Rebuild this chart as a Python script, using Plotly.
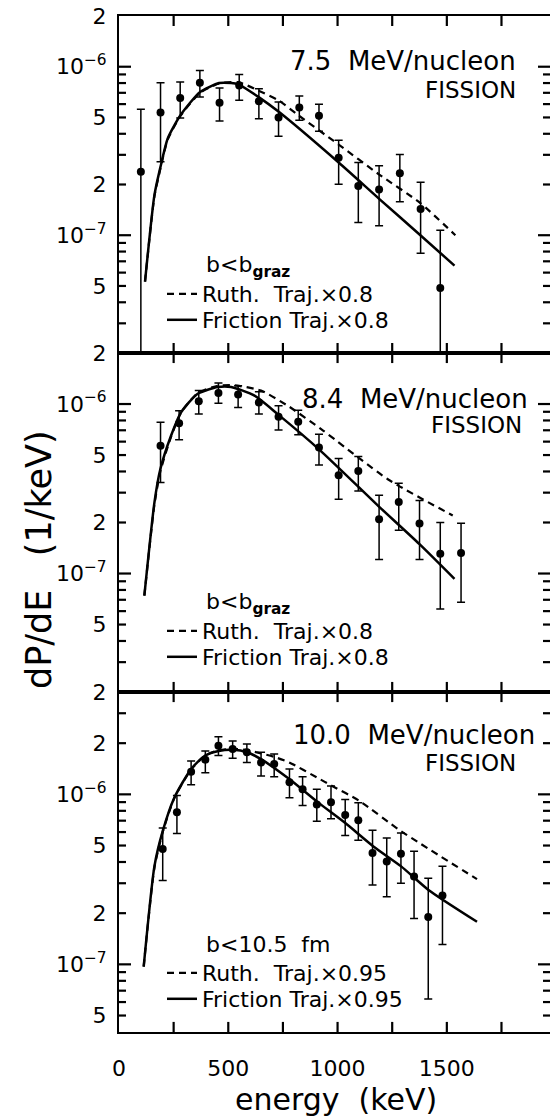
import math
import plotly.graph_objects as go

FONT = "DejaVu Sans"

# ---------------- data ----------------
# Panel 1: 7.5 MeV/nucleon
E1 = [100, 190, 280, 370, 460, 550, 640, 730, 825, 915, 1005, 1095, 1190, 1285, 1380, 1470]
P1 = [2.38e-7, 5.35e-7, 6.53e-7, 8.04e-7, 6.12e-7, 7.75e-7, 6.24e-7, 4.99e-7,
      5.72e-7, 5.11e-7, 2.88e-7, 1.96e-7, 1.87e-7, 2.33e-7, 1.43e-7, 4.86e-8]
HI1 = [5.59e-7, 8.04e-7, 8.12e-7, 9.5e-7, 7.48e-7, 9.0e-7, 7.41e-7, 6.18e-7,
       6.71e-7, 5.98e-7, 3.66e-7, 2.7e-7, 2.58e-7, 3.01e-7, 2.06e-7, 1.07e-7]
LO1 = [1e-9, 2.73e-7, 4.97e-7, 6.61e-7, 4.77e-7, 6.32e-7, 4.92e-7, 3.87e-7,
       4.81e-7, 4.14e-7, 2.01e-7, 1.19e-7, 1.14e-7, 1.58e-7, 7.82e-8, 1e-9]
FRIC1_E = [119, 162, 189, 223, 281, 371, 458, 513, 546, 639, 731, 1005, 1189, 1379, 1535]
FRIC1 = [5.3e-8, 1.73e-7, 2.52e-7, 3.75e-7, 5.15e-7, 7.08e-7, 8.0e-7, 8.0e-7, 7.85e-7,
         6.6e-7, 5.4e-7, 2.7e-7, 1.65e-7, 1.0e-7, 6.6e-8]
RUTH1_E = [119, 162, 189, 223, 281, 371, 458, 546, 639, 731, 825, 1005, 1189, 1379, 1539]
RUTH1 = [5.3e-8, 1.7e-7, 2.47e-7, 3.7e-7, 5.1e-7, 7.0e-7, 7.95e-7, 8.1e-7, 7.2e-7,
         6.3e-7, 5.1e-7, 3.45e-7, 2.3e-7, 1.55e-7, 1.0e-7]

# Panel 2: 8.4 MeV/nucleon
E2 = [190, 275, 365, 455, 545, 640, 730, 820, 915, 1005, 1095, 1190, 1280, 1375, 1470, 1565]
P2 = [5.67e-7, 7.69e-7, 1.04e-6, 1.16e-6, 1.14e-6, 1.02e-6, 8.41e-7, 7.86e-7,
      5.54e-7, 3.8e-7, 4.03e-7, 2.09e-7, 2.64e-7, 1.97e-7, 1.31e-7, 1.32e-7]
HI2 = [7.8e-7, 9.13e-7, 1.2e-6, 1.33e-6, 1.28e-6, 1.18e-6, 9.77e-7, 9.2e-7,
       6.64e-7, 4.77e-7, 4.9e-7, 2.9e-7, 3.41e-7, 2.7e-7, 2.0e-7, 1.98e-7]
LO2 = [3.44e-7, 6.15e-7, 8.72e-7, 1.01e-6, 9.55e-7, 8.72e-7, 7.02e-7, 6.58e-7,
       4.37e-7, 2.74e-7, 3.07e-7, 1.21e-7, 1.8e-7, 1.21e-7, 6.18e-8, 6.76e-8]
FRIC2_E = [116, 162, 189, 238, 284, 360, 452, 513, 620, 726, 914, 1187, 1375, 1535]
FRIC2 = [7.4e-8, 2.62e-7, 4.12e-7, 6.5e-7, 8.93e-7, 1.15e-6, 1.26e-6, 1.26e-6, 1.12e-6,
         8.72e-7, 5.42e-7, 2.5e-7, 1.49e-7, 9.3e-8]
RUTH2_E = [116, 162, 189, 238, 284, 360, 452, 528, 650, 772, 925, 1230, 1527]
RUTH2 = [7.4e-8, 2.55e-7, 4.0e-7, 6.4e-7, 8.9e-7, 1.16e-6, 1.28e-6, 1.29e-6, 1.2e-6,
         9.77e-7, 7.11e-7, 3.6e-7, 2.2e-7]

# Panel 3: 10.0 MeV/nucleon
E3 = [200, 265, 330, 395, 455, 520, 585, 650, 710, 780, 840, 905, 970, 1035, 1095,
      1160, 1225, 1290, 1350, 1415, 1480]
P3 = [4.77e-7, 7.86e-7, 1.36e-6, 1.6e-6, 1.93e-6, 1.85e-6, 1.77e-6, 1.54e-6, 1.51e-6,
      1.18e-6, 1.07e-6, 8.73e-7, 9.0e-7, 7.55e-7, 7.05e-7, 4.52e-7, 4.03e-7, 4.48e-7,
      3.29e-7, 1.9e-7, 2.54e-7]
HI3 = [6.35e-7, 9.86e-7, 1.57e-6, 1.8e-6, 2.18e-6, 2.06e-6, 1.98e-6, 1.77e-6, 1.73e-6,
       1.41e-6, 1.27e-6, 1.07e-6, 1.12e-6, 9.34e-7, 8.93e-7, 6.15e-7, 5.54e-7, 5.93e-7,
       4.62e-7, 3.21e-7, 3.77e-7]
LO3 = [3.11e-7, 5.88e-7, 1.14e-6, 1.34e-6, 1.69e-6, 1.63e-6, 1.54e-6, 1.28e-6, 1.27e-6,
       9.55e-7, 8.61e-7, 6.95e-7, 7.18e-7, 5.72e-7, 5.37e-7, 2.93e-7, 2.5e-7, 3.0e-7,
       1.86e-7, 6.26e-8, 1.31e-7]
FRIC3_E = [113, 162, 200, 253, 330, 394, 456, 523, 586, 650, 779, 909, 1034, 1164, 1291, 1416, 1638]
FRIC3 = [9.7e-8, 3.77e-7, 6.07e-7, 9.55e-7, 1.41e-6, 1.69e-6, 1.8e-6, 1.83e-6, 1.77e-6,
         1.61e-6, 1.23e-6, 9.0e-7, 6.8e-7, 4.94e-7, 3.77e-7, 2.74e-7, 1.78e-7]
RUTH3_E = [113, 162, 200, 253, 330, 394, 456, 523, 586, 650, 711, 779, 909, 970, 1097, 1291, 1638]
RUTH3 = [9.7e-8, 3.7e-7, 6.0e-7, 9.5e-7, 1.4e-6, 1.69e-6, 1.82e-6, 1.85e-6, 1.82e-6,
         1.74e-6, 1.66e-6, 1.54e-6, 1.25e-6, 1.13e-6, 9.2e-7, 6.07e-7, 3.17e-7]

ENERGY_LABELS = ["7.5  MeV/nucleon", "8.4  MeV/nucleon", "10.0  MeV/nucleon"]
CUT_LABELS = ["b&lt;b<sub><b>graz</b></sub>", "b&lt;b<sub><b>graz</b></sub>", "b&lt;10.5  fm"]
RUTH_LABELS = ["Ruth.  Traj.×0.8", "Ruth.  Traj.×0.8", "Ruth.  Traj.×0.95"]
FRIC_LABELS = ["Friction Traj.×0.8", "Friction Traj.×0.8", "Friction Traj.×0.95"]

X_TICKS = [0, 500, 1000, 1500]
X_TICKTEXT = ["0", "500", "1000", "1500"]
X_TICKMARKS = [250, 500, 750, 1000, 1250, 1500, 1750]
X_MAX = 1972

Y_TICKS = [
    [5e-8, 1e-7, 2e-7, 5e-7, 1e-6, 2e-6],
    [2e-8, 5e-8, 1e-7, 2e-7, 5e-7, 1e-6, 2e-6],
    [5e-8, 1e-7, 2e-7, 5e-7, 1e-6, 2e-6],
]
Y_TEXT = [
    ["5", "10<sup>−7</sup>", "2", "5", "10<sup>−6</sup>", "2"],
    ["2", "5", "10<sup>−7</sup>", "2", "5", "10<sup>−6</sup>", "2"],
    ["5", "10<sup>−7</sup>", "2", "5", "10<sup>−6</sup>", "2"],
]
Y_LIMITS = [(2e-8, 2e-6), (2e-8, 2e-6), (4e-8, 4e-6)]

panels = [
    dict(E=E1, P=P1, HI=HI1, LO=LO1, fe=FRIC1_E, f=FRIC1, re=RUTH1_E, r=RUTH1),
    dict(E=E2, P=P2, HI=HI2, LO=LO2, fe=FRIC2_E, f=FRIC2, re=RUTH2_E, r=RUTH2),
    dict(E=E3, P=P3, HI=HI3, LO=LO3, fe=FRIC3_E, f=FRIC3, re=RUTH3_E, r=RUTH3),
]

# ---------------- layout geometry ----------------
W, H = 550, 1118
ML, MR, MT, MB = 119, 0, 16, 86
PW, PH = W - ML - MR, H - MT - MB
def px_x(p):
    return (p - ML) / PW
def px_y(p):
    return (H - MB - p) / PH

panel_px = [(16, 353), (353, 692), (692, 1032)]
domains = [[px_y(b), px_y(t)] for t, b in panel_px]
KEV_PER_PX = X_MAX / PW
DEC_PER_PX = 2.0 / 337.0

fig = go.Figure()
layout = dict(
    template="none",
    width=W, height=H, margin=dict(l=ML, r=MR, t=MT, b=MB),
    paper_bgcolor="white", plot_bgcolor="white",
    font=dict(family=FONT, color="black", size=22),
    showlegend=True,
)

for i, p in enumerate(panels):
    k = i + 1
    xs = "x" if k == 1 else f"x{k}"
    ys = "y" if k == 1 else f"y{k}"
    leg_r = "legend" if k == 1 else f"legend{2 * k - 1}"
    leg_f = f"legend{2 * k}"
    lo, hi = Y_LIMITS[i]

    # ---- tick marks drawn inside the frame (all four sides) ----
    tx, ty = [], []
    xlen = 10 ** (10 * DEC_PER_PX)
    for t in X_TICKMARKS:
        tx += [t, t, None, t, t, None]
        ty += [lo, lo * xlen, None, hi, hi / xlen, None]
    for e in (-8, -7, -6):
        for m in range(1, 10):
            v = m * 10.0 ** e
            if not (lo * 1.01 < v < hi * 0.99):
                continue
            ln = (12 if m == 1 else 7) * KEV_PER_PX
            tx += [0, ln, None, X_MAX, X_MAX - ln, None]
            ty += [v, v, None, v, v, None]
    fig.add_trace(go.Scatter(x=tx, y=ty, mode="lines", line=dict(color="black", width=2.2),
                             hoverinfo="skip", showlegend=False, xaxis=xs, yaxis=ys))

    fig.add_trace(go.Scatter(
        x=p["re"], y=p["r"], mode="lines", line=dict(color="black", width=2.2, dash="7px,5px",
                                                   shape="spline", smoothing=0.6),
        name=RUTH_LABELS[i], legend=leg_r, xaxis=xs, yaxis=ys))
    fig.add_trace(go.Scatter(
        x=p["fe"], y=p["f"], mode="lines", line=dict(color="black", width=2.5,
                                                   shape="spline", smoothing=0.6),
        name=FRIC_LABELS[i], legend=leg_f, xaxis=xs, yaxis=ys))
    fig.add_trace(go.Scatter(
        x=p["E"], y=p["P"], mode="markers", marker=dict(color="black", size=8),
        error_y=dict(type="data", symmetric=False,
                     array=[h - v for h, v in zip(p["HI"], p["P"])],
                     arrayminus=[v - l for v, l in zip(p["P"], p["LO"])],
                     color="black", thickness=1.5, width=4),
        showlegend=False, xaxis=xs, yaxis=ys))

    layout[f"xaxis{'' if k == 1 else k}"] = dict(
        domain=[0, 1], range=[0, X_MAX], anchor=ys,
        tickmode="array", tickvals=X_TICKS, ticktext=X_TICKTEXT, ticks="",
        showline=True, linewidth=2, linecolor="black", mirror=True,
        showgrid=False, zeroline=False, showticklabels=(k == 3),
        tickfont=dict(family=FONT, size=22, color="black"), ticklabelstandoff=16,
    )
    layout[f"yaxis{'' if k == 1 else k}"] = dict(
        domain=domains[i], type="log", range=[math.log10(lo), math.log10(hi)], anchor=xs,
        tickmode="array", tickvals=Y_TICKS[i], ticktext=Y_TEXT[i], ticks="",
        showline=True, linewidth=2, linecolor="black", mirror=False,
        showgrid=False, zeroline=False,
        tickfont=dict(family=FONT, size=22, color="black"), ticklabelstandoff=6,
    )

    top = panel_px[i][0]
    ruth_cy = [278, 278, 281][i]
    fric_cy = [304, 304, 307][i]
    for leg, cy in ((leg_r, ruth_cy), (leg_f, fric_cy)):
        layout[leg] = dict(
            x=px_x(162), y=px_y(top + cy), xanchor="left", yanchor="middle",
            bgcolor="rgba(0,0,0,0)", borderwidth=0, itemwidth=30,
            font=dict(family=FONT, size=22, color="black"),
        )

ann = []
mev_right = [518, 530, 537]
fis_right = [518, 524, 518]
mev_cy = [61, 399, 735]
fis_cy = [90, 425, 763]
cut_cy = [250, 250, 252]
for i in range(3):
    top = panel_px[i][0]
    ann.append(dict(xref="paper", yref="paper", x=px_x(mev_right[i]), y=px_y(mev_cy[i]),
                    xanchor="right", yanchor="middle", text=ENERGY_LABELS[i],
                    showarrow=False, font=dict(family=FONT, size=26, color="black")))
    ann.append(dict(xref="paper", yref="paper", x=px_x(fis_right[i]), y=px_y(fis_cy[i]),
                    xanchor="right", yanchor="middle", text="FISSION",
                    showarrow=False, font=dict(family=FONT, size=23, color="black")))
    ann.append(dict(xref="paper", yref="paper", x=px_x(204), y=px_y(top + cut_cy[i]),
                    xanchor="left", yanchor="middle", text=CUT_LABELS[i],
                    showarrow=False, font=dict(family=FONT, size=22, color="black")))

ann.append(dict(xref="paper", yref="paper", x=px_x(39), y=px_y(560), textangle=-90,
                xanchor="center", yanchor="middle", text="dP/dE   (1/keV)", showarrow=False,
                font=dict(family=FONT, size=35, color="black")))
ann.append(dict(xref="paper", yref="paper", x=px_x(336), y=px_y(1099),
                xanchor="center", yanchor="middle", text="energy  (keV)", showarrow=False,
                font=dict(family=FONT, size=30, color="black")))
layout["annotations"] = ann

fig.update_layout(**layout)
fig.write_html("out.html")
